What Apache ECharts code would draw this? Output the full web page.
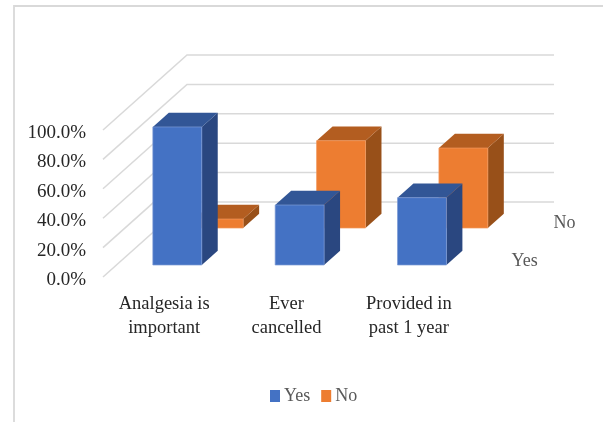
<!DOCTYPE html>
<html><head><meta charset="utf-8">
<style>html,body{margin:0;padding:0;background:#fff}#c{width:603px;height:422px}</style>
<script src="https://cdn.jsdelivr.net/npm/echarts@6/dist/echarts.min.js"></script>
</head><body><div id="c"></div>
<script>
var categories = ['Analgesia is\nimportant', 'Ever\ncancelled', 'Provided in\npast 1 year'];
var yesValues = [93.9, 40.8, 45.8];
var noValues = [6.1, 59.4, 54.4];
var tickValues = [0, 20, 40, 60, 80, 100];
var depthNames = ['Yes', 'No'];

var DEPTH_X = 84, DEPTH_Y = -75;
var BAR_W = 0.4, BAR_D = 0.19;
var FONT = '"Liberation Serif", serif';

function barRenderer(front, c) {
  return function (params, api) {
    var cat = api.value(0), v = api.value(1);
    var band = api.size([1, 0])[0];
    var base = api.coord([cat, 0]), top = api.coord([cat, v]);
    var ox = front * DEPTH_X, oy = front * DEPTH_Y;
    var w = band * BAR_W;
    var l = base[0] + ox - w / 2 - 0.3, r = l + w;
    var b = base[1] + oy, t = top[1] + oy;
    var dx = BAR_D * DEPTH_X, dy = BAR_D * DEPTH_Y;
    return {
      type: 'group',
      children: [
        { type: 'polygon', shape: { points: [[r, b], [r + dx, b + dy], [r + dx, t + dy], [r, t]] }, style: { fill: c.side } },
        { type: 'polygon', shape: { points: [[l, t], [r, t], [r + dx, t + dy], [l + dx, t + dy]] }, style: { fill: c.top } },
        { type: 'rect', shape: { x: l, y: t, width: w, height: b - t }, style: { fill: c.front, stroke: c.edge, lineWidth: 0.7 } }
      ]
    };
  };
}

function wallRenderer(params, api) {
  var band = api.size([1, 0])[0];
  var p = api.coord([0, api.value(1)]);
  var x0 = p[0] - band / 2, y0 = p[1];
  var xEnd = x0 + band * categories.length + DEPTH_X;
  return {
    type: 'polyline',
    shape: { points: [[x0, y0], [x0 + DEPTH_X, y0 + DEPTH_Y], [xEnd, y0 + DEPTH_Y]] },
    style: { stroke: '#d9d9d9', lineWidth: 1.5, fill: null }
  };
}

function depthLabelRenderer(params, api) {
  var band = api.size([1, 0])[0];
  var p = api.coord([categories.length - 1, 0]);
  var f = (params.dataIndex + 0.5) / depthNames.length;
  return {
    type: 'text',
    style: {
      x: p[0] + band / 2 + f * DEPTH_X + 20.5,
      y: p[1] + f * DEPTH_Y + 3,
      text: depthNames[params.dataIndex],
      fill: '#595959',
      font: '18px ' + FONT,
      verticalAlign: 'middle',
      align: 'left'
    }
  };
}

var chart = echarts.init(document.getElementById('c'), null, { renderer: 'canvas' });
chart.setOption({
  animation: false,
  backgroundColor: '#fff',
  grid: { left: 103, right: 133, top: 130, bottom: 145 },
  xAxis: {
    type: 'category',
    data: categories,
    axisLine: { show: false },
    axisTick: { show: false },
    axisLabel: { color: '#262626', fontFamily: FONT, fontSize: 18.5, lineHeight: 24, margin: 15, interval: 0 }
  },
  yAxis: {
    type: 'value', min: 0, max: 100, interval: 20,
    axisLine: { show: false },
    axisTick: { show: false },
    splitLine: { show: false },
    axisLabel: {
      color: '#262626', fontFamily: FONT, fontSize: 19, margin: 17,
      verticalAlign: 'top', lineHeight: 6,
      formatter: function (v) { return v.toFixed(1) + '%'; }
    }
  },
  legend: {
    data: ['Yes', 'No'],
    left: 265, top: 382,
    itemWidth: 10, itemHeight: 12, itemGap: 11,
    icon: 'rect',
    textStyle: { color: '#595959', fontFamily: FONT, fontSize: 18, padding: [0, 0, 0, -1] }
  },
  graphic: [
    { type: 'polyline', silent: true, shape: { points: [[14, 422], [14, 6], [603, 6]] }, style: { stroke: '#d9d9d9', lineWidth: 1.8, fill: null } }
  ],
  series: [
    { type: 'custom', name: 'walls', renderItem: wallRenderer, silent: true, z: 1,
      data: tickValues.map(function (v) { return [0, v]; }) },
    { type: 'custom', name: 'depth', renderItem: depthLabelRenderer, silent: true, z: 1,
      data: depthNames.map(function (n) { return [0, 0]; }) },
    { type: 'custom', name: 'No', z: 2, itemStyle: { color: '#ED7D31' },
      renderItem: barRenderer(0.653, { front: '#ED7D31', side: '#985019', top: '#B35D20', edge: '#F29A5E' }),
      data: noValues.map(function (v, i) { return [i, v]; }) },
    { type: 'custom', name: 'Yes', z: 3, itemStyle: { color: '#4472C4' },
      renderItem: barRenderer(0.16, { front: '#4472C4', side: '#2A4780', top: '#325696', edge: '#7C9BD6' }),
      data: yesValues.map(function (v, i) { return [i, v]; }) }
  ]
});
</script></body></html>
